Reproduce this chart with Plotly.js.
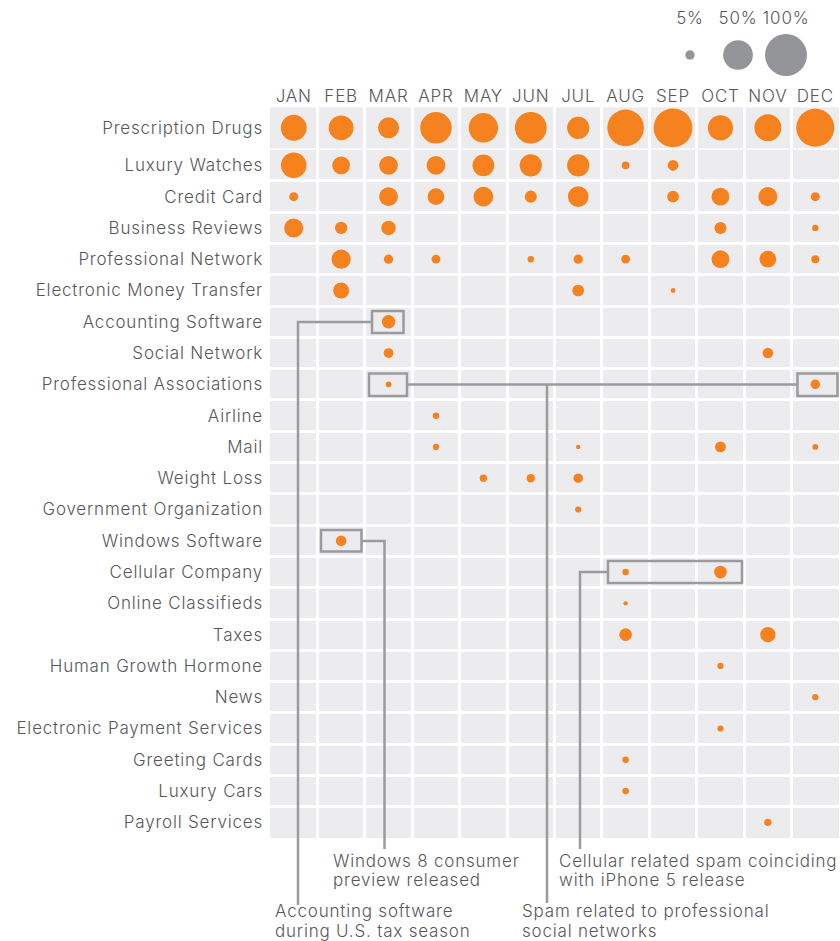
<!DOCTYPE html>
<html>
<head>
<meta charset="utf-8">
<script src="https://cdn.plot.ly/plotly-3.0.1.min.js"></script>
<style>
  html, body { margin: 0; padding: 0; background: #ffffff; }
  #chart { width: 840px; height: 941px; }
  svg text { letter-spacing: 0.8px; }
</style>
</head>
<body>
<div id="chart"></div>
<script>
// ---------------- DATA ----------------
const months = ['JAN', 'FEB', 'MAR', 'APR', 'MAY', 'JUN', 'JUL', 'AUG', 'SEP', 'OCT', 'NOV', 'DEC'];

const categories = [
  'Prescription Drugs', 'Luxury Watches', 'Credit Card', 'Business Reviews',
  'Professional Network', 'Electronic Money Transfer', 'Accounting Software',
  'Social Network', 'Professional Associations', 'Airline', 'Mail', 'Weight Loss',
  'Government Organization', 'Windows Software', 'Cellular Company',
  'Online Classifieds', 'Taxes', 'Human Growth Hormone', 'News',
  'Electronic Payment Services', 'Greeting Cards', 'Luxury Cars', 'Payroll Services'
];

const _ = null;
// share of spam (%), one row per category, one column per month
const shares = [
  [38, 35, 25, 56, 49, 57, 28, 76, 85, 36, 41, 82],      // Prescription Drugs
  [37, 18, 20, 20, 27, 28, 28, 3.4, 6.5, _, _, _],       // Luxury Watches
  [4.6, _, 20, 16, 22, 8.2, 24, _, 7.8, 18, 20.5, 4.6],  // Credit Card
  [20.5, 8.6, 12, _, _, _, _, _, _, 8.2, _, 2.3],        // Business Reviews
  [_, 21, 4.9, 4.3, _, 2.3, 4.9, 4.3, _, 18, 16, 3.6],   // Professional Network
  [_, 14.5, _, _, _, _, 7.8, _, 1.3, _, _, _],           // Electronic Money Transfer
  [_, _, 10.3, _, _, _, _, _, _, _, _, _],               // Accounting Software
  [_, _, 5.4, _, _, _, _, _, _, _, 6.3, _],              // Social Network
  [_, _, 1.9, _, _, _, _, _, _, _, _, 5.1],              // Professional Associations
  [_, _, _, 2.4, _, _, _, _, _, _, _, _],                // Airline
  [_, _, _, 2.2, _, _, 1.1, _, _, 6.7, _, 1.9],          // Mail
  [_, _, _, _, 3, 4, 5.1, _, _, _, _, _],                // Weight Loss
  [_, _, _, _, _, _, 2.2, _, _, _, _, _],                // Government Organization
  [_, 6.3, _, _, _, _, _, _, _, _, _, _],                // Windows Software
  [_, _, _, _, _, _, _, 2.4, _, 9.1, _, _],              // Cellular Company
  [_, _, _, _, _, _, _, 1.1, _, _, _, _],                // Online Classifieds
  [_, _, _, _, _, _, _, 9.1, _, _, 13.3, _],             // Taxes
  [_, _, _, _, _, _, _, _, _, 2.2, _, _],                // Human Growth Hormone
  [_, _, _, _, _, _, _, _, _, _, _, 2.2],                // News
  [_, _, _, _, _, _, _, _, _, 2.2, _, _],                // Electronic Payment Services
  [_, _, _, _, _, _, _, 2.4, _, _, _, _],                // Greeting Cards
  [_, _, _, _, _, _, _, 2.4, _, _, _, _],                // Luxury Cars
  [_, _, _, _, _, _, _, _, _, _, 3, _]                   // Payroll Services
];

const scaleLabels = ['5%', '50%', '100%'];
const scaleValues = [5, 50, 100];

const noteAccounting = ['Accounting software', 'during U.S. tax season'];
const noteWindows = ['Windows 8 consumer', 'preview released'];
const noteProfessional = ['Spam related to professional', 'social networks'];
const noteCellular = ['Cellular related spam coinciding', 'with iPhone 5 release'];

// ---------------- LAYOUT HELPERS ----------------
const W = 840, H = 941, ML = 270, MR = 1, MT = 0, MB = 103;
const PW = W - ML - MR, PH = H - MT - MB;
const X = px => (px - ML) / PW;          // pixel x -> paper
const Y = py => (H - MB - py) / PH;      // pixel y -> paper

const ORANGE = '#F5821F';
const CELL = '#ECECEE';
const LINEC = '#9B9B9D';
const TEXTC = '#58585A';
const FONT = 'Inter, "Open Sans", "Liberation Sans", Arial, sans-serif';
const FS = 17;
const FW = 300;
const SIZEREF = 2 * 100 / (42 * 42);   // 100% -> 42px diameter

function rowTrace(r, yaxis) {
  const xs = [], ss = [];
  shares[r].forEach((v, i) => { if (v !== null) { xs.push(months[i]); ss.push(v); } });
  return {
    type: 'scatter', mode: 'markers',
    x: xs, y: xs.map(() => categories[r]),
    xaxis: 'x', yaxis: yaxis,
    marker: { size: ss, sizemode: 'area', sizeref: SIZEREF, color: ORANGE, opacity: 1, line: { width: 0 } },
    cliponaxis: false, showlegend: false, hoverinfo: 'x+y+text',
    text: ss.map(v => v + '%')
  };
}

const traces = [rowTrace(0, 'y2')];
for (let r = 1; r < categories.length; r++) traces.push(rowTrace(r, 'y'));

traces.push({
  type: 'scatter', mode: 'markers',
  x: scaleLabels, y: scaleLabels.map(() => 'scale'),
  xaxis: 'x3', yaxis: 'y3',
  marker: { size: scaleValues, sizemode: 'area', sizeref: SIZEREF, color: '#939598', opacity: 1, line: { width: 0 } },
  cliponaxis: false, showlegend: false, hoverinfo: 'x'
});

// ---------------- SHAPES ----------------
const shapes = [
  { type: 'rect', xref: 'x domain', yref: 'y domain', x0: 0, x1: 1, y0: 0, y1: 1, fillcolor: CELL, line: { width: 0 }, layer: 'below' },
  { type: 'rect', xref: 'x domain', yref: 'y2 domain', x0: 0, x1: 1, y0: 0, y1: 1, fillcolor: CELL, line: { width: 0 }, layer: 'below' }
];
function box(x0, x1, y0, y1) {
  shapes.push({ type: 'rect', xref: 'paper', yref: 'paper', x0: X(x0), x1: X(x1), y0: Y(y1), y1: Y(y0),
    line: { color: LINEC, width: 2.5 }, fillcolor: 'rgba(0,0,0,0)', layer: 'above' });
}
function poly(pts) {
  const d = pts.map((p, i) => (i ? 'L' : 'M') + X(p[0]) + ',' + Y(p[1])).join(' ');
  shapes.push({ type: 'path', xref: 'paper', yref: 'paper', path: d, line: { color: LINEC, width: 2.5 }, layer: 'above' });
}
// Accounting software
box(372, 403.5, 311, 333);
poly([[372, 322], [298, 322], [298, 905]]);
// Windows 8
box(321, 361.5, 530, 551.5);
poly([[361.5, 541], [384.5, 541], [384.5, 849]]);
// Professional associations
box(369, 407, 373.5, 396);
box(797.5, 837.5, 373.5, 396);
poly([[407, 384.5], [797.5, 384.5]]);
poly([[547, 384.5], [547, 903]]);
// Cellular
box(608, 742, 561, 583);
poly([[608, 572], [580, 572], [580, 849]]);

// ---------------- ANNOTATIONS ----------------
const annotations = [];
function note(lines, px, py) {
  lines.forEach((t, i) => annotations.push({
    xref: 'paper', yref: 'paper', x: X(px), y: Y(py + i * 19.5),
    xanchor: 'left', yanchor: 'middle', showarrow: false, text: t,
    font: { family: FONT, size: FS, color: TEXTC, weight: FW }
  }));
}
note(noteAccounting, 273, 911);
note(noteWindows, 331, 860.5);
note(noteProfessional, 520, 911);
note(noteCellular, 557, 860.5);

const tickFont = { family: FONT, size: FS, color: TEXTC, weight: FW };

const layout = {
  width: W, height: H,
  margin: { l: ML, r: MR, t: MT, b: MB, pad: 0 },
  paper_bgcolor: '#ffffff',
  plot_bgcolor: 'rgba(0,0,0,0)',
  hovermode: 'closest',
  font: { family: FONT, color: TEXTC },
  xaxis: {
    domain: [0, 1], anchor: 'y2', side: 'top', type: 'category',
    categoryorder: 'array', categoryarray: months, range: [-0.5, 11.5],
    tickson: 'boundaries', showgrid: true, gridcolor: '#ffffff', gridwidth: 2.6,
    ticks: '', tickangle: 0, showline: false, zeroline: false, tickfont: tickFont, ticklabelstandoff: 1,
    fixedrange: true
  },
  yaxis: {
    domain: [0, Y(149.7)], anchor: 'x', type: 'category',
    categoryorder: 'array', categoryarray: categories.slice(1),
    range: [categories.length - 1.5, -0.5],
    tickson: 'boundaries', showgrid: true, gridcolor: '#ffffff', gridwidth: 2.6,
    ticks: '', showline: false, zeroline: false, tickfont: tickFont, ticklabelstandoff: 6,
    fixedrange: true
  },
  yaxis2: {
    domain: [Y(148.3), Y(107.3)], anchor: 'x', type: 'category',
    categoryorder: 'array', categoryarray: categories.slice(0, 1),
    range: [0.5, -0.5], showgrid: false,
    ticks: '', showline: false, zeroline: false, tickfont: tickFont, ticklabelstandoff: 6,
    fixedrange: true
  },
  xaxis3: {
    domain: [X(666), X(810)], anchor: 'y3', side: 'top', type: 'category',
    categoryorder: 'array', categoryarray: scaleLabels, range: [-0.5, 2.5],
    showgrid: false, ticks: '', tickangle: 0, showline: false, zeroline: false,
    tickfont: tickFont, ticklabelstandoff: 2,
    fixedrange: true
  },
  yaxis3: {
    domain: [Y(80), Y(30)], anchor: 'x3', type: 'category', range: [-0.5, 0.5],
    visible: false, fixedrange: true
  },
  shapes: shapes,
  annotations: annotations
};

Plotly.newPlot('chart', traces, layout, { displayModeBar: false });
</script>
</body>
</html>
